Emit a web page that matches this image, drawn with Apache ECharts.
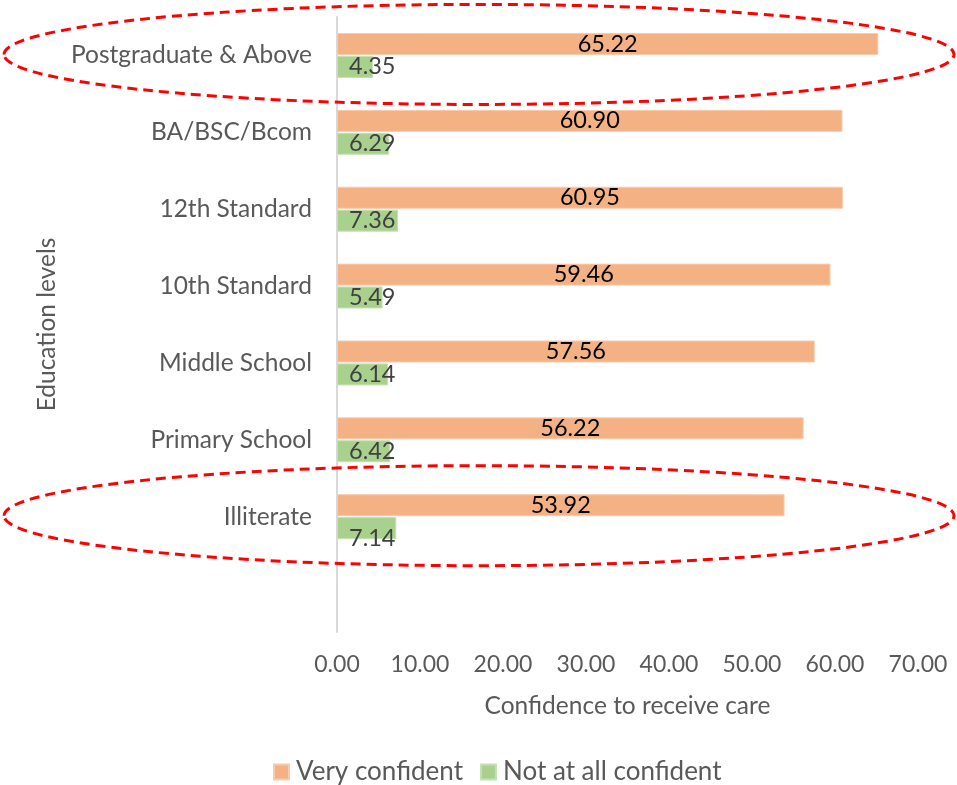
<!DOCTYPE html>
<html>
<head>
<meta charset="utf-8">
<script src="https://cdn.jsdelivr.net/npm/echarts@6/dist/echarts.min.js"></script>
<style>
  html, body { margin: 0; padding: 0; background: #fff; }
  #chart { width: 957px; height: 785px; }
</style>
</head>
<body>
<div id="chart"></div>
<script>
// Education levels, top to bottom; the trailing blank slot leaves room under the last row
const categories = ['Postgraduate & Above', 'BA/BSC/Bcom', '12th Standard', '10th Standard', 'Middle School', 'Primary School', 'Illiterate', ''];
const veryConfident = [65.22, 60.90, 60.95, 59.46, 57.56, 56.22, 53.92];
const notAtAllConfident = [4.35, 6.29, 7.36, 5.49, 6.14, 6.42, 7.14];
const xTicks = [0, 10, 20, 30, 40, 50, 60, 70];
// Rows circled for emphasis
const highlighted = ['Postgraduate & Above', 'Illiterate'];

const FONT = 'Lato, "Open Sans", sans-serif';
const GREY = '#595959';

const chart = echarts.init(document.getElementById('chart'));

const greenData = notAtAllConfident.map((v, i) => (
  categories[i] === 'Illiterate' ? { value: v, label: { offset: [0, 10] } } : v
));

chart.setOption({
  animation: false,
  textStyle: { fontFamily: FONT },
  grid: { left: 337, right: 39, top: 17, bottom: 153 },
  legend: {
    top: 754,
    left: 268,
    itemWidth: 15,
    itemHeight: 15,
    itemGap: 17,
    icon: 'rect',
    textStyle: { fontSize: 26, color: GREY, fontFamily: FONT, padding: [0, 0, 0, 2] },
    data: ['Very confident', 'Not at all confident']
  },
  xAxis: {
    type: 'value',
    min: xTicks[0],
    max: xTicks[xTicks.length - 1],
    interval: 10,
    name: 'Confidence to receive care',
    nameLocation: 'middle',
    nameGap: 62,
    nameTextStyle: { fontSize: 24.5, color: GREY, fontFamily: FONT },
    axisLine: { show: false },
    axisTick: { show: false },
    splitLine: { show: false },
    axisLabel: {
      fontSize: 23, color: GREY, margin: 21,
      formatter: v => v.toFixed(2)
    }
  },
  yAxis: {
    type: 'category',
    inverse: true,
    data: categories,
    name: 'Education levels',
    nameLocation: 'middle',
    nameGap: 277,
    nameRotate: 90,
    nameTextStyle: { fontSize: 24.5, color: GREY, fontFamily: FONT },
    axisLine: { show: true, lineStyle: { color: '#d9d9d9', width: 2 } },
    axisTick: { show: false },
    axisLabel: { fontSize: 24.5, color: GREY, margin: 25 }
  },
  series: [
    {
      name: 'Very confident',
      type: 'bar',
      data: veryConfident,
      barWidth: 22,
      barGap: '4%',
      itemStyle: { color: '#F4B183', borderColor: '#F8CBAD', borderWidth: 1 },
      label: {
        show: true, position: 'inside', color: '#000', fontSize: 23.5,
        formatter: p => p.value.toFixed(2)
      }
    },
    {
      name: 'Not at all confident',
      type: 'bar',
      data: greenData,
      barWidth: 22,
      itemStyle: { color: '#A9D18E', borderColor: '#C5E0B4', borderWidth: 1 },
      label: {
        show: true, position: 'insideLeft', distance: 12, color: '#404040', fontSize: 23.5,
        formatter: p => p.value.toFixed(2)
      }
    }
  ]
});

// Dashed red ellipses around the highlighted rows
function drawHighlights() {
  const graphics = highlighted.map(name => {
    const cy = chart.convertToPixel({ yAxisIndex: 0 }, name) - 1;
    return {
      type: 'ellipse',
      shape: { cx: 479, cy: cy, rx: 475, ry: 50 },
      style: { fill: null, stroke: '#FF0000', lineWidth: 3, lineDash: [10, 6] },
      z: 100
    };
  });
  chart.setOption({ graphic: graphics });
}
drawHighlights();
</script>
</body>
</html>
